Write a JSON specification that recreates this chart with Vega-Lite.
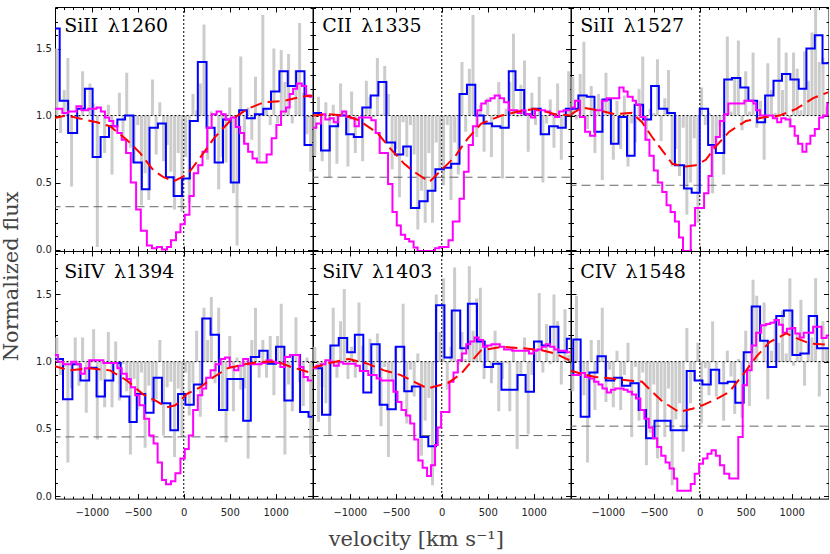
{
"$schema":"https://vega.github.io/schema/vega-lite/v6.json",
"background":"white",
"padding":{"left":0,"top":6,"right":0,"bottom":0},
"config":{"view":{"stroke":null},"axis":{"grid":false,"tickColor":"black","tickWidth":1,"domainColor":"black","domainWidth":1,"labelFont":"DejaVu Sans","labelFontSize":10,"labelColor":"#222222","titleFont":"DejaVu Serif","titleFontSize":21,"titleFontWeight":"normal","titleColor":"#444444","labelFlush":false,"zindex":1}},
"datasets":{
"g":[
{"p":1,"v":-1380,"f":1.5},{"p":1,"v":-1340,"f":0.87},{"p":1,"v":-1300,"f":1.19},{"p":1,"v":-1260,"f":1.43},{"p":1,"v":-1220,"f":0.47},{"p":1,"v":-1180,"f":0.99},{"p":1,"v":-1140,"f":0.97},{"p":1,"v":-1100,"f":1.33},{"p":1,"v":-1060,"f":1.0},{"p":1,"v":-1020,"f":1.24},{"p":1,"v":-980,"f":1.09},{"p":1,"v":-940,"f":0.02},{"p":1,"v":-900,"f":1.0},{"p":1,"v":-860,"f":0.72},{"p":1,"v":-820,"f":1.08},{"p":1,"v":-780,"f":0.56},{"p":1,"v":-740,"f":1.0},{"p":1,"v":-700,"f":1.17},{"p":1,"v":-660,"f":0.81},{"p":1,"v":-620,"f":1.32},{"p":1,"v":-580,"f":0.76},{"p":1,"v":-540,"f":0.65},{"p":1,"v":-500,"f":0.93},{"p":1,"v":-460,"f":0.33},{"p":1,"v":-420,"f":0.57},{"p":1,"v":-380,"f":0.37},{"p":1,"v":-340,"f":1.27},{"p":1,"v":-300,"f":0.71},{"p":1,"v":-260,"f":1.1},{"p":1,"v":-220,"f":0.66},{"p":1,"v":-180,"f":0.78},{"p":1,"v":-140,"f":0.58},{"p":1,"v":-100,"f":0.3},{"p":1,"v":-60,"f":0.72},{"p":1,"v":-20,"f":0.28},{"p":1,"v":20,"f":0.69},{"p":1,"v":60,"f":0.35},{"p":1,"v":100,"f":1.16},{"p":1,"v":140,"f":1.04},{"p":1,"v":180,"f":1.24},{"p":1,"v":220,"f":1.68},{"p":1,"v":260,"f":0.67},{"p":1,"v":300,"f":1.03},{"p":1,"v":340,"f":1.01},{"p":1,"v":380,"f":0.45},{"p":1,"v":420,"f":0.69},{"p":1,"v":460,"f":0.65},{"p":1,"v":500,"f":1.21},{"p":1,"v":540,"f":0.42},{"p":1,"v":580,"f":0.03},{"p":1,"v":620,"f":1.44},{"p":1,"v":660,"f":0.8},{"p":1,"v":700,"f":1.06},{"p":1,"v":740,"f":0.82},{"p":1,"v":780,"f":1.29},{"p":1,"v":820,"f":0.65},{"p":1,"v":860,"f":1.75},{"p":1,"v":900,"f":1.05},{"p":1,"v":940,"f":0.93},{"p":1,"v":980,"f":1.5},{"p":1,"v":1020,"f":0.94},{"p":1,"v":1060,"f":1.49},{"p":1,"v":1100,"f":1.25},{"p":1,"v":1140,"f":1.46},{"p":1,"v":1180,"f":0.94},{"p":1,"v":1220,"f":1.34},{"p":1,"v":1260,"f":1.69},{"p":1,"v":1300,"f":1.17},{"p":1,"v":1340,"f":0.86},{"p":1,"v":1380,"f":0.58},
{"p":2,"v":-1380,"f":0.7},{"p":2,"v":-1340,"f":1.14},{"p":2,"v":-1300,"f":0.66},{"p":2,"v":-1260,"f":1.1},{"p":2,"v":-1220,"f":0.54},{"p":2,"v":-1180,"f":1.08},{"p":2,"v":-1140,"f":0.64},{"p":2,"v":-1100,"f":1.24},{"p":2,"v":-1060,"f":1.04},{"p":2,"v":-1020,"f":0.62},{"p":2,"v":-980,"f":1.18},{"p":2,"v":-940,"f":0.72},{"p":2,"v":-900,"f":1.0},{"p":2,"v":-860,"f":0.66},{"p":2,"v":-820,"f":1.26},{"p":2,"v":-780,"f":1.14},{"p":2,"v":-740,"f":0.99},{"p":2,"v":-700,"f":1.43},{"p":2,"v":-660,"f":1.01},{"p":2,"v":-620,"f":1.37},{"p":2,"v":-580,"f":1.16},{"p":2,"v":-540,"f":0.6},{"p":2,"v":-500,"f":0.75},{"p":2,"v":-460,"f":0.39},{"p":2,"v":-420,"f":0.95},{"p":2,"v":-380,"f":0.69},{"p":2,"v":-340,"f":0.93},{"p":2,"v":-300,"f":0.71},{"p":2,"v":-260,"f":0.15},{"p":2,"v":-220,"f":0.44},{"p":2,"v":-180,"f":0.2},{"p":2,"v":-140,"f":0.72},{"p":2,"v":-100,"f":0.2},{"p":2,"v":-60,"f":0.8},{"p":2,"v":-20,"f":0.6},{"p":2,"v":20,"f":0.48},{"p":2,"v":60,"f":0.93},{"p":2,"v":100,"f":0.37},{"p":2,"v":140,"f":0.8},{"p":2,"v":180,"f":0.56},{"p":2,"v":220,"f":1.4},{"p":2,"v":260,"f":0.88},{"p":2,"v":300,"f":1.35},{"p":2,"v":340,"f":1.75},{"p":2,"v":380,"f":0.84},{"p":2,"v":420,"f":1.08},{"p":2,"v":460,"f":0.73},{"p":2,"v":500,"f":1.13},{"p":2,"v":540,"f":0.69},{"p":2,"v":580,"f":1.01},{"p":2,"v":620,"f":1.25},{"p":2,"v":660,"f":0.53},{"p":2,"v":700,"f":1.05},{"p":2,"v":740,"f":1.25},{"p":2,"v":780,"f":1.61},{"p":2,"v":820,"f":0.99},{"p":2,"v":860,"f":1.23},{"p":2,"v":900,"f":1.41},{"p":2,"v":940,"f":0.73},{"p":2,"v":980,"f":1.17},{"p":2,"v":1020,"f":0.93},{"p":2,"v":1060,"f":1.29},{"p":2,"v":1100,"f":0.5},{"p":2,"v":1140,"f":0.94},{"p":2,"v":1180,"f":1.12},{"p":2,"v":1220,"f":0.76},{"p":2,"v":1260,"f":1.24},{"p":2,"v":1300,"f":0.67},{"p":2,"v":1340,"f":0.91},{"p":2,"v":1380,"f":1.33},
{"p":3,"v":-1380,"f":1.29},{"p":3,"v":-1340,"f":0.97},{"p":3,"v":-1300,"f":1.31},{"p":3,"v":-1260,"f":1.55},{"p":3,"v":-1220,"f":0.9},{"p":3,"v":-1180,"f":1.22},{"p":3,"v":-1140,"f":0.72},{"p":3,"v":-1100,"f":1.16},{"p":3,"v":-1060,"f":0.52},{"p":3,"v":-1020,"f":1.32},{"p":3,"v":-980,"f":1.12},{"p":3,"v":-940,"f":0.67},{"p":3,"v":-900,"f":1.11},{"p":3,"v":-860,"f":0.75},{"p":3,"v":-820,"f":1.15},{"p":3,"v":-780,"f":0.62},{"p":3,"v":-740,"f":0.94},{"p":3,"v":-700,"f":0.8},{"p":3,"v":-660,"f":1.2},{"p":3,"v":-620,"f":1.44},{"p":3,"v":-580,"f":0.81},{"p":3,"v":-540,"f":1.05},{"p":3,"v":-500,"f":1.02},{"p":3,"v":-460,"f":1.42},{"p":3,"v":-420,"f":0.81},{"p":3,"v":-380,"f":1.13},{"p":3,"v":-340,"f":1.34},{"p":3,"v":-300,"f":0.62},{"p":3,"v":-260,"f":0.75},{"p":3,"v":-220,"f":0.55},{"p":3,"v":-180,"f":0.91},{"p":3,"v":-140,"f":0.26},{"p":3,"v":-100,"f":0.5},{"p":3,"v":-60,"f":0.83},{"p":3,"v":-20,"f":0.2},{"p":3,"v":20,"f":1.21},{"p":3,"v":60,"f":0.93},{"p":3,"v":100,"f":1.02},{"p":3,"v":140,"f":0.42},{"p":3,"v":180,"f":0.8},{"p":3,"v":220,"f":0.92},{"p":3,"v":260,"f":0.56},{"p":3,"v":300,"f":1.59},{"p":3,"v":340,"f":1.03},{"p":3,"v":380,"f":1.28},{"p":3,"v":420,"f":1.56},{"p":3,"v":460,"f":0.89},{"p":3,"v":500,"f":1.33},{"p":3,"v":540,"f":1.03},{"p":3,"v":580,"f":1.47},{"p":3,"v":620,"f":0.91},{"p":3,"v":660,"f":1.11},{"p":3,"v":700,"f":0.67},{"p":3,"v":740,"f":1.39},{"p":3,"v":780,"f":1.19},{"p":3,"v":820,"f":1.02},{"p":3,"v":860,"f":1.58},{"p":3,"v":900,"f":1.19},{"p":3,"v":940,"f":1.47},{"p":3,"v":980,"f":0.91},{"p":3,"v":1020,"f":1.47},{"p":3,"v":1060,"f":1.35},{"p":3,"v":1100,"f":1.04},{"p":3,"v":1140,"f":1.48},{"p":3,"v":1180,"f":1.26},{"p":3,"v":1220,"f":1.62},{"p":3,"v":1260,"f":1.8},{"p":3,"v":1300,"f":1.4},{"p":3,"v":1340,"f":1.43},{"p":3,"v":1380,"f":1.07},
{"p":4,"v":-1380,"f":1.18},{"p":4,"v":-1340,"f":0.9},{"p":4,"v":-1300,"f":0.96},{"p":4,"v":-1260,"f":0.25},{"p":4,"v":-1220,"f":0.8},{"p":4,"v":-1180,"f":1.18},{"p":4,"v":-1140,"f":0.82},{"p":4,"v":-1100,"f":1.18},{"p":4,"v":-1060,"f":0.62},{"p":4,"v":-1020,"f":0.96},{"p":4,"v":-980,"f":1.24},{"p":4,"v":-940,"f":0.42},{"p":4,"v":-900,"f":0.86},{"p":4,"v":-860,"f":0.66},{"p":4,"v":-820,"f":1.22},{"p":4,"v":-780,"f":0.66},{"p":4,"v":-740,"f":1.15},{"p":4,"v":-700,"f":0.71},{"p":4,"v":-660,"f":0.98},{"p":4,"v":-620,"f":0.78},{"p":4,"v":-580,"f":0.31},{"p":4,"v":-540,"f":0.87},{"p":4,"v":-500,"f":0.64},{"p":4,"v":-460,"f":0.92},{"p":4,"v":-420,"f":0.36},{"p":4,"v":-380,"f":0.82},{"p":4,"v":-340,"f":0.7},{"p":4,"v":-300,"f":0.72},{"p":4,"v":-260,"f":1.16},{"p":4,"v":-220,"f":0.45},{"p":4,"v":-180,"f":0.81},{"p":4,"v":-140,"f":0.85},{"p":4,"v":-100,"f":0.29},{"p":4,"v":-60,"f":0.8},{"p":4,"v":-20,"f":0.44},{"p":4,"v":20,"f":0.92},{"p":4,"v":60,"f":0.6},{"p":4,"v":100,"f":0.84},{"p":4,"v":140,"f":1.23},{"p":4,"v":180,"f":0.59},{"p":4,"v":220,"f":1.4},{"p":4,"v":260,"f":1.16},{"p":4,"v":300,"f":1.48},{"p":4,"v":340,"f":0.84},{"p":4,"v":380,"f":1.4},{"p":4,"v":420,"f":0.64},{"p":4,"v":460,"f":0.4},{"p":4,"v":500,"f":1.19},{"p":4,"v":540,"f":0.63},{"p":4,"v":580,"f":1.03},{"p":4,"v":620,"f":0.79},{"p":4,"v":660,"f":0.8},{"p":4,"v":700,"f":0.28},{"p":4,"v":740,"f":1.16},{"p":4,"v":780,"f":1.4},{"p":4,"v":820,"f":0.88},{"p":4,"v":860,"f":1.16},{"p":4,"v":900,"f":0.88},{"p":4,"v":940,"f":1.19},{"p":4,"v":980,"f":0.75},{"p":4,"v":1020,"f":1.19},{"p":4,"v":1060,"f":1.43},{"p":4,"v":1100,"f":0.31},{"p":4,"v":1140,"f":0.83},{"p":4,"v":1180,"f":0.63},{"p":4,"v":1220,"f":1.33},{"p":4,"v":1260,"f":0.85},{"p":4,"v":1300,"f":0.67},{"p":4,"v":1340,"f":1.03},{"p":4,"v":1380,"f":0.31},
{"p":5,"v":-1380,"f":1.11},{"p":5,"v":-1340,"f":0.55},{"p":5,"v":-1300,"f":0.81},{"p":5,"v":-1260,"f":0.69},{"p":5,"v":-1220,"f":0.45},{"p":5,"v":-1180,"f":1.4},{"p":5,"v":-1140,"f":0.88},{"p":5,"v":-1100,"f":1.3},{"p":5,"v":-1060,"f":1.54},{"p":5,"v":-1020,"f":0.87},{"p":5,"v":-980,"f":1.11},{"p":5,"v":-940,"f":0.88},{"p":5,"v":-900,"f":1.44},{"p":5,"v":-860,"f":1.12},{"p":5,"v":-820,"f":0.93},{"p":5,"v":-780,"f":1.17},{"p":5,"v":-740,"f":0.89},{"p":5,"v":-700,"f":1.21},{"p":5,"v":-660,"f":0.52},{"p":5,"v":-620,"f":0.96},{"p":5,"v":-580,"f":0.29},{"p":5,"v":-540,"f":0.85},{"p":5,"v":-500,"f":1.11},{"p":5,"v":-460,"f":0.99},{"p":5,"v":-420,"f":1.43},{"p":5,"v":-380,"f":0.54},{"p":5,"v":-340,"f":0.94},{"p":5,"v":-300,"f":0.74},{"p":5,"v":-260,"f":1.06},{"p":5,"v":-220,"f":0.3},{"p":5,"v":-180,"f":0.56},{"p":5,"v":-140,"f":0.73},{"p":5,"v":-100,"f":0.08},{"p":5,"v":-60,"f":1.5},{"p":5,"v":-20,"f":1.22},{"p":5,"v":20,"f":1.62},{"p":5,"v":60,"f":0.79},{"p":5,"v":100,"f":1.11},{"p":5,"v":140,"f":1.7},{"p":5,"v":180,"f":0.98},{"p":5,"v":220,"f":1.22},{"p":5,"v":260,"f":1.02},{"p":5,"v":300,"f":1.71},{"p":5,"v":340,"f":1.23},{"p":5,"v":380,"f":1.47},{"p":5,"v":420,"f":1.55},{"p":5,"v":460,"f":0.87},{"p":5,"v":500,"f":1.12},{"p":5,"v":540,"f":0.84},{"p":5,"v":580,"f":1.23},{"p":5,"v":620,"f":0.63},{"p":5,"v":660,"f":0.87},{"p":5,"v":700,"f":0.99},{"p":5,"v":740,"f":0.63},{"p":5,"v":780,"f":1.11},{"p":5,"v":820,"f":0.35},{"p":5,"v":860,"f":0.9},{"p":5,"v":900,"f":1.18},{"p":5,"v":940,"f":0.46},{"p":5,"v":980,"f":0.9},{"p":5,"v":1020,"f":1.07},{"p":5,"v":1060,"f":1.51},{"p":5,"v":1100,"f":0.92},{"p":5,"v":1140,"f":1.28},{"p":5,"v":1180,"f":0.98},{"p":5,"v":1220,"f":1.5},{"p":5,"v":1260,"f":1.3},{"p":5,"v":1300,"f":0.83},{"p":5,"v":1340,"f":1.39},{"p":5,"v":1380,"f":1.05},
{"p":6,"v":-1380,"f":0.78},{"p":6,"v":-1340,"f":1.49},{"p":6,"v":-1300,"f":0.93},{"p":6,"v":-1260,"f":0.75},{"p":6,"v":-1220,"f":0.25},{"p":6,"v":-1180,"f":1.16},{"p":6,"v":-1140,"f":0.64},{"p":6,"v":-1100,"f":1.16},{"p":6,"v":-1060,"f":1.4},{"p":6,"v":-1020,"f":0.7},{"p":6,"v":-980,"f":0.94},{"p":6,"v":-940,"f":0.66},{"p":6,"v":-900,"f":1.08},{"p":6,"v":-860,"f":0.64},{"p":6,"v":-820,"f":0.9},{"p":6,"v":-780,"f":1.14},{"p":6,"v":-740,"f":0.44},{"p":6,"v":-700,"f":0.96},{"p":6,"v":-660,"f":0.56},{"p":6,"v":-620,"f":0.92},{"p":6,"v":-580,"f":0.23},{"p":6,"v":-540,"f":0.47},{"p":6,"v":-500,"f":0.83},{"p":6,"v":-460,"f":0.28},{"p":6,"v":-420,"f":0.72},{"p":6,"v":-380,"f":0.44},{"p":6,"v":-340,"f":0.8},{"p":6,"v":-300,"f":0.08},{"p":6,"v":-260,"f":0.57},{"p":6,"v":-220,"f":0.69},{"p":6,"v":-180,"f":0.33},{"p":6,"v":-140,"f":1.25},{"p":6,"v":-100,"f":0.69},{"p":6,"v":-60,"f":0.86},{"p":6,"v":-20,"f":1.14},{"p":6,"v":20,"f":0.54},{"p":6,"v":60,"f":0.95},{"p":6,"v":100,"f":0.75},{"p":6,"v":140,"f":1.3},{"p":6,"v":180,"f":0.74},{"p":6,"v":220,"f":1.0},{"p":6,"v":260,"f":0.56},{"p":6,"v":300,"f":1.08},{"p":6,"v":340,"f":0.89},{"p":6,"v":380,"f":0.61},{"p":6,"v":420,"f":1.02},{"p":6,"v":460,"f":0.58},{"p":6,"v":500,"f":1.23},{"p":6,"v":540,"f":0.67},{"p":6,"v":580,"f":1.61},{"p":6,"v":620,"f":1.49},{"p":6,"v":660,"f":1.0},{"p":6,"v":700,"f":1.44},{"p":6,"v":740,"f":0.72},{"p":6,"v":780,"f":1.08},{"p":6,"v":820,"f":1.32},{"p":6,"v":860,"f":1.14},{"p":6,"v":900,"f":1.38},{"p":6,"v":940,"f":1.06},{"p":6,"v":980,"f":1.62},{"p":6,"v":1020,"f":0.97},{"p":6,"v":1060,"f":1.21},{"p":6,"v":1100,"f":1.46},{"p":6,"v":1140,"f":0.82},{"p":6,"v":1180,"f":1.14},{"p":6,"v":1220,"f":1.18},{"p":6,"v":1260,"f":1.62},{"p":6,"v":1300,"f":0.74},{"p":6,"v":1340,"f":1.3},{"p":6,"v":1380,"f":1.1}
],
"b":[
{"p":1,"v":-1420,"f":1.65},{"p":1,"v":-1349,"f":1.11},{"p":1,"v":-1257,"f":0.87},{"p":1,"v":-1159,"f":1.05},{"p":1,"v":-1075,"f":1.2},{"p":1,"v":-991,"f":0.69},{"p":1,"v":-904,"f":0.84},{"p":1,"v":-813,"f":0.92},{"p":1,"v":-722,"f":0.97},{"p":1,"v":-638,"f":1.0},{"p":1,"v":-547,"f":0.65},{"p":1,"v":-456,"f":0.45},{"p":1,"v":-372,"f":0.91},{"p":1,"v":-281,"f":0.94},{"p":1,"v":-194,"f":0.54},{"p":1,"v":-110,"f":0.4},{"p":1,"v":-18,"f":0.53},{"p":1,"v":66,"f":0.96},{"p":1,"v":153,"f":1.4},{"p":1,"v":248,"f":0.91},{"p":1,"v":336,"f":0.65},{"p":1,"v":427,"f":0.97},{"p":1,"v":511,"f":0.5},{"p":1,"v":602,"f":1.04},{"p":1,"v":686,"f":0.98},{"p":1,"v":773,"f":1.01},{"p":1,"v":865,"f":1.05},{"p":1,"v":949,"f":1.18},{"p":1,"v":1040,"f":1.33},{"p":1,"v":1131,"f":1.22},{"p":1,"v":1222,"f":1.33},{"p":1,"v":1313,"f":0.78},{"p":1,"v":1420,"f":0.78},
{"p":2,"v":-1420,"f":1.02},{"p":2,"v":-1313,"f":0.74},{"p":2,"v":-1218,"f":0.92},{"p":2,"v":-1127,"f":1.0},{"p":2,"v":-1039,"f":0.86},{"p":2,"v":-956,"f":0.84},{"p":2,"v":-864,"f":1.06},{"p":2,"v":-773,"f":1.15},{"p":2,"v":-689,"f":1.25},{"p":2,"v":-602,"f":0.8},{"p":2,"v":-507,"f":0.71},{"p":2,"v":-419,"f":0.77},{"p":2,"v":-336,"f":0.31},{"p":2,"v":-244,"f":0.36},{"p":2,"v":-153,"f":0.44},{"p":2,"v":-69,"f":0.6},{"p":2,"v":22,"f":0.61},{"p":2,"v":102,"f":0.64},{"p":2,"v":193,"f":1.16},{"p":2,"v":274,"f":1.23},{"p":2,"v":365,"f":1.0},{"p":2,"v":456,"f":0.94},{"p":2,"v":547,"f":0.92},{"p":2,"v":638,"f":0.91},{"p":2,"v":729,"f":1.33},{"p":2,"v":802,"f":1.19},{"p":2,"v":897,"f":1.01},{"p":2,"v":985,"f":1.05},{"p":2,"v":1076,"f":0.86},{"p":2,"v":1167,"f":0.92},{"p":2,"v":1262,"f":0.91},{"p":2,"v":1349,"f":1.05},{"p":2,"v":1420,"f":1.05},
{"p":3,"v":-1420,"f":1.05},{"p":3,"v":-1320,"f":1.15},{"p":3,"v":-1229,"f":1.14},{"p":3,"v":-1145,"f":0.88},{"p":3,"v":-1058,"f":1.12},{"p":3,"v":-966,"f":0.79},{"p":3,"v":-883,"f":0.99},{"p":3,"v":-791,"f":0.7},{"p":3,"v":-708,"f":1.08},{"p":3,"v":-616,"f":0.97},{"p":3,"v":-529,"f":1.22},{"p":3,"v":-445,"f":1.05},{"p":3,"v":-354,"f":1.02},{"p":3,"v":-270,"f":0.63},{"p":3,"v":-171,"f":0.455},{"p":3,"v":-88,"f":0.425},{"p":3,"v":0,"f":1.05},{"p":3,"v":91,"f":0.78},{"p":3,"v":175,"f":0.72},{"p":3,"v":266,"f":1.27},{"p":3,"v":350,"f":1.28},{"p":3,"v":441,"f":1.21},{"p":3,"v":529,"f":1.11},{"p":3,"v":624,"f":0.95},{"p":3,"v":711,"f":1.15},{"p":3,"v":802,"f":1.26},{"p":3,"v":894,"f":1.31},{"p":3,"v":985,"f":1.27},{"p":3,"v":1076,"f":1.2},{"p":3,"v":1160,"f":1.5},{"p":3,"v":1251,"f":1.6},{"p":3,"v":1335,"f":1.39},{"p":3,"v":1420,"f":1.39},
{"p":4,"v":-1420,"f":1.02},{"p":4,"v":-1313,"f":0.72},{"p":4,"v":-1211,"f":0.98},{"p":4,"v":-1123,"f":0.86},{"p":4,"v":-1028,"f":0.955},{"p":4,"v":-948,"f":0.74},{"p":4,"v":-857,"f":0.86},{"p":4,"v":-766,"f":0.99},{"p":4,"v":-686,"f":0.74},{"p":4,"v":-591,"f":0.55},{"p":4,"v":-511,"f":0.76},{"p":4,"v":-419,"f":0.62},{"p":4,"v":-328,"f":0.88},{"p":4,"v":-237,"f":0.69},{"p":4,"v":-146,"f":0.49},{"p":4,"v":-62,"f":0.76},{"p":4,"v":18,"f":0.68},{"p":4,"v":109,"f":0.83},{"p":4,"v":201,"f":1.32},{"p":4,"v":292,"f":1.2},{"p":4,"v":383,"f":0.64},{"p":4,"v":474,"f":0.87},{"p":4,"v":646,"f":0.56},{"p":4,"v":729,"f":1.035},{"p":4,"v":821,"f":1.08},{"p":4,"v":912,"f":0.985},{"p":4,"v":1003,"f":1.11},{"p":4,"v":1094,"f":0.71},{"p":4,"v":1185,"f":1.05},{"p":4,"v":1265,"f":0.625},{"p":4,"v":1357,"f":0.59},{"p":4,"v":1420,"f":0.59},
{"p":5,"v":-1420,"f":0.95},{"p":5,"v":-1302,"f":0.605},{"p":5,"v":-1211,"f":1.12},{"p":5,"v":-1120,"f":1.175},{"p":5,"v":-1028,"f":1.07},{"p":5,"v":-945,"f":1.2},{"p":5,"v":-853,"f":0.77},{"p":5,"v":-766,"f":1.13},{"p":5,"v":-675,"f":0.68},{"p":5,"v":-591,"f":0.645},{"p":5,"v":-500,"f":1.11},{"p":5,"v":-408,"f":0.78},{"p":5,"v":-325,"f":0.815},{"p":5,"v":-233,"f":0.44},{"p":5,"v":-146,"f":0.37},{"p":5,"v":-62,"f":1.42},{"p":5,"v":29,"f":1.03},{"p":5,"v":109,"f":1.38},{"p":5,"v":201,"f":1.1},{"p":5,"v":284,"f":1.43},{"p":5,"v":383,"f":1.15},{"p":5,"v":467,"f":0.96},{"p":5,"v":558,"f":0.985},{"p":5,"v":649,"f":0.79},{"p":5,"v":824,"f":0.9},{"p":5,"v":912,"f":0.775},{"p":5,"v":1003,"f":1.15},{"p":5,"v":1087,"f":1.12},{"p":5,"v":1178,"f":1.26},{"p":5,"v":1269,"f":1.07},{"p":5,"v":1360,"f":1.17},{"p":5,"v":1420,"f":1.17},
{"p":6,"v":-1420,"f":0.9},{"p":6,"v":-1375,"f":1.165},{"p":6,"v":-1295,"f":0.59},{"p":6,"v":-1200,"f":0.92},{"p":6,"v":-1112,"f":1.04},{"p":6,"v":-1021,"f":0.86},{"p":6,"v":-930,"f":0.88},{"p":6,"v":-846,"f":0.82},{"p":6,"v":-755,"f":0.84},{"p":6,"v":-664,"f":0.64},{"p":6,"v":-584,"f":0.43},{"p":6,"v":-492,"f":0.56},{"p":6,"v":-317,"f":0.49},{"p":6,"v":-142,"f":0.93},{"p":6,"v":-55,"f":0.86},{"p":6,"v":29,"f":0.83},{"p":6,"v":120,"f":0.94},{"p":6,"v":212,"f":0.84},{"p":6,"v":303,"f":0.85},{"p":6,"v":387,"f":0.695},{"p":6,"v":478,"f":1.07},{"p":6,"v":565,"f":1.41},{"p":6,"v":656,"f":1.155},{"p":6,"v":740,"f":0.96},{"p":6,"v":832,"f":1.34},{"p":6,"v":915,"f":1.38},{"p":6,"v":1007,"f":1.05},{"p":6,"v":1094,"f":1.06},{"p":6,"v":1185,"f":1.34},{"p":6,"v":1276,"f":1.1},{"p":6,"v":1420,"f":1.1}
],
"m":[
{"p":1,"v":-1420,"f":1.05},{"p":1,"v":-1320,"f":1.02},{"p":1,"v":-1258,"f":1.03},{"p":1,"v":-1167,"f":1.07},{"p":1,"v":-1112,"f":1.04},{"p":1,"v":-1039,"f":1.05},{"p":1,"v":-948,"f":1.06},{"p":1,"v":-901,"f":1.03},{"p":1,"v":-857,"f":0.985},{"p":1,"v":-810,"f":0.96},{"p":1,"v":-766,"f":0.92},{"p":1,"v":-722,"f":0.87},{"p":1,"v":-675,"f":0.82},{"p":1,"v":-627,"f":0.72},{"p":1,"v":-576,"f":0.5},{"p":1,"v":-518,"f":0.3},{"p":1,"v":-467,"f":0.14},{"p":1,"v":-401,"f":0.03},{"p":1,"v":-346,"f":0.01},{"p":1,"v":-292,"f":0.02},{"p":1,"v":-237,"f":0.0},{"p":1,"v":-182,"f":0.02},{"p":1,"v":-139,"f":0.07},{"p":1,"v":-84,"f":0.13},{"p":1,"v":-36,"f":0.19},{"p":1,"v":11,"f":0.26},{"p":1,"v":62,"f":0.4},{"p":1,"v":109,"f":0.57},{"p":1,"v":157,"f":0.63},{"p":1,"v":204,"f":0.73},{"p":1,"v":255,"f":0.91},{"p":1,"v":303,"f":1.01},{"p":1,"v":357,"f":1.03},{"p":1,"v":408,"f":1.01},{"p":1,"v":456,"f":0.97},{"p":1,"v":511,"f":0.985},{"p":1,"v":565,"f":0.915},{"p":1,"v":613,"f":0.87},{"p":1,"v":656,"f":0.79},{"p":1,"v":700,"f":0.73},{"p":1,"v":748,"f":0.68},{"p":1,"v":795,"f":0.65},{"p":1,"v":901,"f":0.71},{"p":1,"v":956,"f":0.83},{"p":1,"v":1007,"f":0.93},{"p":1,"v":1058,"f":1.03},{"p":1,"v":1112,"f":1.06},{"p":1,"v":1152,"f":1.16},{"p":1,"v":1189,"f":1.2},{"p":1,"v":1233,"f":1.24},{"p":1,"v":1284,"f":1.22},{"p":1,"v":1331,"f":1.15},{"p":1,"v":1368,"f":1.14},{"p":1,"v":1420,"f":1.14},
{"p":2,"v":-1420,"f":0.91},{"p":2,"v":-1364,"f":0.94},{"p":2,"v":-1313,"f":1.01},{"p":2,"v":-1266,"f":0.97},{"p":2,"v":-1218,"f":0.98},{"p":2,"v":-1174,"f":0.95},{"p":2,"v":-1127,"f":1.0},{"p":2,"v":-1083,"f":1.03},{"p":2,"v":-1039,"f":0.99},{"p":2,"v":-992,"f":0.98},{"p":2,"v":-948,"f":0.92},{"p":2,"v":-901,"f":0.985},{"p":2,"v":-766,"f":0.965},{"p":2,"v":-718,"f":0.87},{"p":2,"v":-675,"f":0.72},{"p":2,"v":-584,"f":0.49},{"p":2,"v":-536,"f":0.28},{"p":2,"v":-489,"f":0.18},{"p":2,"v":-445,"f":0.11},{"p":2,"v":-398,"f":0.08},{"p":2,"v":-354,"f":0.06},{"p":2,"v":-306,"f":0.015},{"p":2,"v":-263,"f":-0.01},{"p":2,"v":-73,"f":0.01},{"p":2,"v":-26,"f":0.02},{"p":2,"v":73,"f":0.07},{"p":2,"v":120,"f":0.21},{"p":2,"v":193,"f":0.38},{"p":2,"v":241,"f":0.58},{"p":2,"v":292,"f":0.78},{"p":2,"v":339,"f":0.92},{"p":2,"v":387,"f":1.04},{"p":2,"v":430,"f":1.09},{"p":2,"v":478,"f":1.11},{"p":2,"v":529,"f":1.13},{"p":2,"v":576,"f":1.15},{"p":2,"v":631,"f":1.13},{"p":2,"v":678,"f":1.1},{"p":2,"v":729,"f":1.04},{"p":2,"v":824,"f":1.02},{"p":2,"v":868,"f":1.04},{"p":2,"v":912,"f":1.01},{"p":2,"v":970,"f":0.985},{"p":2,"v":1014,"f":1.04},{"p":2,"v":1123,"f":1.03},{"p":2,"v":1178,"f":1.01},{"p":2,"v":1233,"f":0.99},{"p":2,"v":1276,"f":1.03},{"p":2,"v":1324,"f":1.04},{"p":2,"v":1420,"f":1.04},
{"p":3,"v":-1420,"f":1.06},{"p":3,"v":-1357,"f":1.11},{"p":3,"v":-1302,"f":0.99},{"p":3,"v":-1247,"f":0.88},{"p":3,"v":-1193,"f":0.85},{"p":3,"v":-1138,"f":1.04},{"p":3,"v":-1065,"f":1.11},{"p":3,"v":-1010,"f":1.13},{"p":3,"v":-875,"f":1.21},{"p":3,"v":-828,"f":1.18},{"p":3,"v":-784,"f":1.14},{"p":3,"v":-729,"f":1.11},{"p":3,"v":-693,"f":1.08},{"p":3,"v":-646,"f":0.99},{"p":3,"v":-591,"f":0.82},{"p":3,"v":-547,"f":0.7},{"p":3,"v":-500,"f":0.59},{"p":3,"v":-456,"f":0.5},{"p":3,"v":-408,"f":0.43},{"p":3,"v":-361,"f":0.33},{"p":3,"v":-317,"f":0.28},{"p":3,"v":-270,"f":0.21},{"p":3,"v":-226,"f":0.09},{"p":3,"v":-182,"f":-0.01},{"p":3,"v":-98,"f":0.18},{"p":3,"v":-51,"f":0.31},{"p":3,"v":47,"f":0.42},{"p":3,"v":95,"f":0.55},{"p":3,"v":131,"f":0.77},{"p":3,"v":175,"f":0.84},{"p":3,"v":219,"f":0.96},{"p":3,"v":266,"f":1.01},{"p":3,"v":310,"f":1.09},{"p":3,"v":485,"f":1.11},{"p":3,"v":584,"f":1.09},{"p":3,"v":613,"f":1.04},{"p":3,"v":656,"f":1.0},{"p":3,"v":795,"f":0.98},{"p":3,"v":842,"f":0.95},{"p":3,"v":886,"f":0.98},{"p":3,"v":934,"f":0.97},{"p":3,"v":985,"f":0.92},{"p":3,"v":1032,"f":0.85},{"p":3,"v":1069,"f":0.79},{"p":3,"v":1116,"f":0.73},{"p":3,"v":1160,"f":0.79},{"p":3,"v":1203,"f":0.85},{"p":3,"v":1251,"f":0.9},{"p":3,"v":1298,"f":0.985},{"p":3,"v":1342,"f":1.0},{"p":3,"v":1386,"f":1.09},{"p":3,"v":1420,"f":1.09},
{"p":4,"v":-1420,"f":1.05},{"p":4,"v":-1368,"f":1.0},{"p":4,"v":-1313,"f":0.98},{"p":4,"v":-1222,"f":1.0},{"p":4,"v":-1167,"f":0.98},{"p":4,"v":-1120,"f":0.91},{"p":4,"v":-1076,"f":0.95},{"p":4,"v":-1028,"f":1.01},{"p":4,"v":-875,"f":0.99},{"p":4,"v":-722,"f":0.95},{"p":4,"v":-675,"f":0.91},{"p":4,"v":-620,"f":0.87},{"p":4,"v":-576,"f":0.81},{"p":4,"v":-529,"f":0.75},{"p":4,"v":-481,"f":0.675},{"p":4,"v":-430,"f":0.575},{"p":4,"v":-376,"f":0.45},{"p":4,"v":-328,"f":0.39},{"p":4,"v":-284,"f":0.25},{"p":4,"v":-237,"f":0.12},{"p":4,"v":-193,"f":0.087},{"p":4,"v":-139,"f":0.11},{"p":4,"v":-91,"f":0.17},{"p":4,"v":-36,"f":0.28},{"p":4,"v":11,"f":0.35},{"p":4,"v":55,"f":0.45},{"p":4,"v":102,"f":0.64},{"p":4,"v":153,"f":0.75},{"p":4,"v":201,"f":0.8},{"p":4,"v":244,"f":0.88},{"p":4,"v":292,"f":0.935},{"p":4,"v":346,"f":0.98},{"p":4,"v":401,"f":1.02},{"p":4,"v":449,"f":1.03},{"p":4,"v":500,"f":0.96},{"p":4,"v":547,"f":0.935},{"p":4,"v":594,"f":0.97},{"p":4,"v":646,"f":1.02},{"p":4,"v":700,"f":0.98},{"p":4,"v":846,"f":0.99},{"p":4,"v":901,"f":1.01},{"p":4,"v":956,"f":1.0},{"p":4,"v":1003,"f":0.99},{"p":4,"v":1050,"f":0.96},{"p":4,"v":1101,"f":1.035},{"p":4,"v":1156,"f":1.05},{"p":4,"v":1258,"f":0.96},{"p":4,"v":1302,"f":0.885},{"p":4,"v":1349,"f":0.86},{"p":4,"v":1420,"f":0.86},
{"p":5,"v":-1420,"f":0.95},{"p":5,"v":-1364,"f":0.97},{"p":5,"v":-1313,"f":0.98},{"p":5,"v":-1266,"f":1.01},{"p":5,"v":-1218,"f":1.0},{"p":5,"v":-1174,"f":0.97},{"p":5,"v":-1120,"f":0.995},{"p":5,"v":-1072,"f":0.985},{"p":5,"v":-937,"f":0.97},{"p":5,"v":-890,"f":0.93},{"p":5,"v":-799,"f":0.9},{"p":5,"v":-708,"f":0.875},{"p":5,"v":-664,"f":0.86},{"p":5,"v":-525,"f":0.775},{"p":5,"v":-481,"f":0.7},{"p":5,"v":-438,"f":0.64},{"p":5,"v":-390,"f":0.6},{"p":5,"v":-343,"f":0.54},{"p":5,"v":-299,"f":0.42},{"p":5,"v":-255,"f":0.265},{"p":5,"v":-208,"f":0.21},{"p":5,"v":-160,"f":0.15},{"p":5,"v":-117,"f":0.23},{"p":5,"v":-73,"f":0.38},{"p":5,"v":-44,"f":0.51},{"p":5,"v":-7,"f":0.625},{"p":5,"v":84,"f":0.85},{"p":5,"v":128,"f":0.92},{"p":5,"v":175,"f":1.01},{"p":5,"v":219,"f":1.06},{"p":5,"v":266,"f":1.13},{"p":5,"v":310,"f":1.15},{"p":5,"v":357,"f":1.18},{"p":5,"v":401,"f":1.16},{"p":5,"v":449,"f":1.11},{"p":5,"v":492,"f":1.12},{"p":5,"v":540,"f":1.13},{"p":5,"v":631,"f":1.11},{"p":5,"v":678,"f":1.09},{"p":5,"v":766,"f":1.08},{"p":5,"v":948,"f":1.06},{"p":5,"v":996,"f":1.08},{"p":5,"v":1039,"f":1.09},{"p":5,"v":1087,"f":1.11},{"p":5,"v":1131,"f":1.13},{"p":5,"v":1178,"f":1.11},{"p":5,"v":1225,"f":1.09},{"p":5,"v":1269,"f":1.08},{"p":5,"v":1360,"f":1.07},{"p":5,"v":1420,"f":1.07},
{"p":6,"v":-1420,"f":0.9},{"p":6,"v":-1295,"f":0.915},{"p":6,"v":-1247,"f":0.885},{"p":6,"v":-1193,"f":0.875},{"p":6,"v":-1149,"f":0.85},{"p":6,"v":-1101,"f":0.83},{"p":6,"v":-1058,"f":0.8},{"p":6,"v":-1010,"f":0.77},{"p":6,"v":-966,"f":0.79},{"p":6,"v":-919,"f":0.8},{"p":6,"v":-828,"f":0.79},{"p":6,"v":-784,"f":0.775},{"p":6,"v":-737,"f":0.755},{"p":6,"v":-693,"f":0.725},{"p":6,"v":-646,"f":0.64},{"p":6,"v":-602,"f":0.575},{"p":6,"v":-554,"f":0.51},{"p":6,"v":-511,"f":0.43},{"p":6,"v":-463,"f":0.365},{"p":6,"v":-419,"f":0.3},{"p":6,"v":-372,"f":0.25},{"p":6,"v":-328,"f":0.205},{"p":6,"v":-281,"f":0.13},{"p":6,"v":-244,"f":0.04},{"p":6,"v":-98,"f":0.09},{"p":6,"v":-55,"f":0.165},{"p":6,"v":-7,"f":0.24},{"p":6,"v":36,"f":0.28},{"p":6,"v":84,"f":0.315},{"p":6,"v":128,"f":0.34},{"p":6,"v":175,"f":0.3},{"p":6,"v":219,"f":0.23},{"p":6,"v":266,"f":0.165},{"p":6,"v":321,"f":0.13},{"p":6,"v":419,"f":0.44},{"p":6,"v":467,"f":0.825},{"p":6,"v":514,"f":0.935},{"p":6,"v":565,"f":1.12},{"p":6,"v":613,"f":1.215},{"p":6,"v":667,"f":1.27},{"p":6,"v":722,"f":1.28},{"p":6,"v":766,"f":1.29},{"p":6,"v":813,"f":1.31},{"p":6,"v":861,"f":1.275},{"p":6,"v":904,"f":1.215},{"p":6,"v":948,"f":1.245},{"p":6,"v":996,"f":1.25},{"p":6,"v":1039,"f":1.21},{"p":6,"v":1087,"f":1.18},{"p":6,"v":1131,"f":1.215},{"p":6,"v":1233,"f":1.26},{"p":6,"v":1324,"f":1.175},{"p":6,"v":1379,"f":1.195},{"p":6,"v":1420,"f":1.195}
],
"r":[
{"p":1,"v":-1420,"f":0.98},{"p":1,"v":-1276,"f":1.0},{"p":1,"v":-945,"f":0.95},{"p":1,"v":-800,"f":0.92},{"p":1,"v":-620,"f":0.82},{"p":1,"v":-474,"f":0.72},{"p":1,"v":-328,"f":0.59},{"p":1,"v":-219,"f":0.54},{"p":1,"v":-110,"f":0.51},{"p":1,"v":-18,"f":0.54},{"p":1,"v":73,"f":0.59},{"p":1,"v":182,"f":0.69},{"p":1,"v":328,"f":0.83},{"p":1,"v":510,"f":0.965},{"p":1,"v":693,"f":1.05},{"p":1,"v":875,"f":1.1},{"p":1,"v":1094,"f":1.11},{"p":1,"v":1276,"f":1.14},{"p":1,"v":1420,"f":1.15},
{"p":2,"v":-1420,"f":1.0},{"p":2,"v":-1229,"f":1.01},{"p":2,"v":-1047,"f":1.0},{"p":2,"v":-901,"f":0.965},{"p":2,"v":-700,"f":0.87},{"p":2,"v":-554,"f":0.75},{"p":2,"v":-408,"f":0.64},{"p":2,"v":-299,"f":0.58},{"p":2,"v":-135,"f":0.505},{"p":2,"v":-7,"f":0.59},{"p":2,"v":139,"f":0.69},{"p":2,"v":284,"f":0.83},{"p":2,"v":430,"f":0.94},{"p":2,"v":649,"f":1.0},{"p":2,"v":831,"f":1.03},{"p":2,"v":1014,"f":1.05},{"p":2,"v":1233,"f":1.01},{"p":2,"v":1420,"f":1.0},
{"p":3,"v":-1420,"f":1.0},{"p":3,"v":-1284,"f":1.06},{"p":3,"v":-1101,"f":1.04},{"p":3,"v":-919,"f":1.01},{"p":3,"v":-737,"f":1.02},{"p":3,"v":-627,"f":0.95},{"p":3,"v":-518,"f":0.84},{"p":3,"v":-408,"f":0.74},{"p":3,"v":-299,"f":0.64},{"p":3,"v":-153,"f":0.62},{"p":3,"v":-44,"f":0.63},{"p":3,"v":66,"f":0.67},{"p":3,"v":175,"f":0.77},{"p":3,"v":321,"f":0.88},{"p":3,"v":503,"f":0.96},{"p":3,"v":686,"f":0.985},{"p":3,"v":868,"f":1.0},{"p":3,"v":1050,"f":1.05},{"p":3,"v":1233,"f":1.13},{"p":3,"v":1420,"f":1.18},
{"p":4,"v":-1420,"f":0.97},{"p":4,"v":-1240,"f":0.935},{"p":4,"v":-1021,"f":0.95},{"p":4,"v":-802,"f":0.935},{"p":4,"v":-620,"f":0.86},{"p":4,"v":-438,"f":0.755},{"p":4,"v":-292,"f":0.705},{"p":4,"v":-182,"f":0.66},{"p":4,"v":-91,"f":0.675},{"p":4,"v":36,"f":0.76},{"p":4,"v":182,"f":0.81},{"p":4,"v":292,"f":0.87},{"p":4,"v":474,"f":0.95},{"p":4,"v":693,"f":0.985},{"p":4,"v":875,"f":1.0},{"p":4,"v":1021,"f":1.0},{"p":4,"v":1167,"f":0.96},{"p":4,"v":1420,"f":0.91},
{"p":5,"v":-1420,"f":0.95},{"p":5,"v":-1247,"f":0.985},{"p":5,"v":-1010,"f":1.02},{"p":5,"v":-810,"f":0.985},{"p":5,"v":-627,"f":0.935},{"p":5,"v":-445,"f":0.9},{"p":5,"v":-299,"f":0.85},{"p":5,"v":-153,"f":0.8},{"p":5,"v":-44,"f":0.82},{"p":5,"v":66,"f":0.84},{"p":5,"v":212,"f":0.91},{"p":5,"v":321,"f":1.0},{"p":5,"v":430,"f":1.085},{"p":5,"v":649,"f":1.11},{"p":5,"v":868,"f":1.1},{"p":5,"v":1087,"f":1.085},{"p":5,"v":1233,"f":1.06},{"p":5,"v":1420,"f":1.0},
{"p":6,"v":-1420,"f":0.935},{"p":6,"v":-1284,"f":0.91},{"p":6,"v":-1138,"f":0.885},{"p":6,"v":-955,"f":0.875},{"p":6,"v":-773,"f":0.86},{"p":6,"v":-627,"f":0.85},{"p":6,"v":-554,"f":0.8},{"p":6,"v":-408,"f":0.705},{"p":6,"v":-226,"f":0.625},{"p":6,"v":-80,"f":0.65},{"p":6,"v":29,"f":0.675},{"p":6,"v":175,"f":0.72},{"p":6,"v":321,"f":0.775},{"p":6,"v":467,"f":0.9},{"p":6,"v":613,"f":1.035},{"p":6,"v":759,"f":1.145},{"p":6,"v":941,"f":1.21},{"p":6,"v":1050,"f":1.175},{"p":6,"v":1196,"f":1.135},{"p":6,"v":1420,"f":1.125}
]
},
"concat":[
{"width":257.5,"height":244,"resolve":{"axis":{"x":"independent","y":"independent"}},"layer":[
{"data":{"name":"g"},"transform":[{"filter":"datum.p==1"}],"mark":{"type":"rule","color":"#cccccc","strokeWidth":3,"clip":true},"encoding":{"x":{"field":"v","type":"quantitative","scale":{"domain":[-1400,1400],"nice":false,"zero":false},"axis":{"orient":"bottom","values":[-1000,-500,0,500,1000],"tickSize":-5,"labels":false,"domain":true,"title":null}},"y":{"field":"f","type":"quantitative","scale":{"domain":[-0.0104,1.81],"nice":false,"zero":false},"axis":{"orient":"left","values":[0,0.5,1,1.5],"format":".1f","tickSize":-5,"labels":true,"labelPadding":8.6,"domain":true,"title":"Normalized flux","titleX":-37.6,"titleY":268.8,"titleAngle":-90,"titleBaseline":"alphabetic","titleAlign":"center"}},"y2":{"datum":1}}},
{"data":{"values":[{}]},"mark":{"type":"rule","color":"black","strokeWidth":1,"strokeDash":[2,2]},"encoding":{"y":{"datum":1,"axis":null}}},
{"data":{"values":[{}]},"mark":{"type":"rule","color":"black","strokeWidth":1,"strokeDash":[2,2]},"encoding":{"x":{"datum":0,"axis":null}}},
{"data":{"values":[{}]},"mark":{"type":"rule","color":"#666666","strokeWidth":1,"strokeDash":[9,5]},"encoding":{"y":{"datum":0.32,"axis":null}}},
{"data":{"name":"b"},"transform":[{"filter":"datum.p==1"}],"mark":{"type":"line","interpolate":"step-after","color":"#0000ff","strokeWidth":2,"clip":true},"encoding":{"x":{"field":"v","type":"quantitative","axis":{"orient":"bottom","values":[-1300,-1200,-1100,-900,-800,-700,-600,-400,-300,-200,-100,100,200,300,400,600,700,800,900,1100,1200,1300],"tickSize":-2.5,"labels":false,"domain":false,"title":null}},"y":{"field":"f","type":"quantitative","axis":{"orient":"left","values":[0.1,0.2,0.3,0.4,0.6,0.7,0.8,0.9,1.1,1.2,1.3,1.4,1.6,1.7,1.8],"tickSize":-2.5,"labels":false,"domain":false,"title":null}}}},
{"data":{"name":"m"},"transform":[{"filter":"datum.p==1"}],"mark":{"type":"line","interpolate":"step-after","color":"#ff00ff","strokeWidth":2,"clip":true},"encoding":{"x":{"field":"v","type":"quantitative","axis":{"orient":"top","values":[-1000,-500,0,500,1000],"tickSize":-5,"labels":false,"domain":true,"title":null}},"y":{"field":"f","type":"quantitative","axis":{"orient":"right","values":[0,0.5,1,1.5],"tickSize":-5,"labels":false,"domain":true,"title":null}}}},
{"data":{"name":"r"},"transform":[{"filter":"datum.p==1"}],"mark":{"type":"line","color":"#ff0000","strokeWidth":2,"strokeDash":[12,6],"clip":true},"encoding":{"x":{"field":"v","type":"quantitative","axis":{"orient":"top","values":[-1300,-1200,-1100,-900,-800,-700,-600,-400,-300,-200,-100,100,200,300,400,600,700,800,900,1100,1200,1300],"tickSize":-2.5,"labels":false,"domain":false,"title":null}},"y":{"field":"f","type":"quantitative","axis":{"orient":"right","values":[0.1,0.2,0.3,0.4,0.6,0.7,0.8,0.9,1.1,1.2,1.3,1.4,1.6,1.7,1.8],"tickSize":-2.5,"labels":false,"domain":false,"title":null}}}},
{"data":{"values":[{}]},"mark":{"type":"text","align":"left","baseline":"alphabetic","font":"DejaVu Serif","fontSize":19,"color":"black"},"encoding":{"x":{"datum":-1300,"axis":null},"y":{"datum":1.62,"axis":null},"text":{"value":"SiII\u2002λ1260"}}}
]},
{"width":257.5,"height":244,"resolve":{"axis":{"x":"independent","y":"independent"}},"layer":[
{"data":{"name":"g"},"transform":[{"filter":"datum.p==2"}],"mark":{"type":"rule","color":"#cccccc","strokeWidth":3,"clip":true},"encoding":{"x":{"field":"v","type":"quantitative","scale":{"domain":[-1400,1400],"nice":false,"zero":false},"axis":{"orient":"bottom","values":[-1000,-500,0,500,1000],"tickSize":-5,"labels":false,"domain":true,"title":null}},"y":{"field":"f","type":"quantitative","scale":{"domain":[-0.0104,1.81],"nice":false,"zero":false},"axis":{"orient":"left","values":[0,0.5,1,1.5],"tickSize":-5,"labels":false,"domain":true,"title":null}},"y2":{"datum":1}}},
{"data":{"values":[{}]},"mark":{"type":"rule","color":"black","strokeWidth":1,"strokeDash":[2,2]},"encoding":{"y":{"datum":1,"axis":null}}},
{"data":{"values":[{}]},"mark":{"type":"rule","color":"black","strokeWidth":1,"strokeDash":[2,2]},"encoding":{"x":{"datum":0,"axis":null}}},
{"data":{"values":[{}]},"mark":{"type":"rule","color":"#666666","strokeWidth":1,"strokeDash":[9,5]},"encoding":{"y":{"datum":0.54,"axis":null}}},
{"data":{"name":"b"},"transform":[{"filter":"datum.p==2"}],"mark":{"type":"line","interpolate":"step-after","color":"#0000ff","strokeWidth":2,"clip":true},"encoding":{"x":{"field":"v","type":"quantitative","axis":{"orient":"bottom","values":[-1300,-1200,-1100,-900,-800,-700,-600,-400,-300,-200,-100,100,200,300,400,600,700,800,900,1100,1200,1300],"tickSize":-2.5,"labels":false,"domain":false,"title":null}},"y":{"field":"f","type":"quantitative","axis":{"orient":"left","values":[0.1,0.2,0.3,0.4,0.6,0.7,0.8,0.9,1.1,1.2,1.3,1.4,1.6,1.7,1.8],"tickSize":-2.5,"labels":false,"domain":false,"title":null}}}},
{"data":{"name":"m"},"transform":[{"filter":"datum.p==2"}],"mark":{"type":"line","interpolate":"step-after","color":"#ff00ff","strokeWidth":2,"clip":true},"encoding":{"x":{"field":"v","type":"quantitative","axis":{"orient":"top","values":[-1000,-500,0,500,1000],"tickSize":-5,"labels":false,"domain":true,"title":null}},"y":{"field":"f","type":"quantitative","axis":{"orient":"right","values":[0,0.5,1,1.5],"tickSize":-5,"labels":false,"domain":true,"title":null}}}},
{"data":{"name":"r"},"transform":[{"filter":"datum.p==2"}],"mark":{"type":"line","color":"#ff0000","strokeWidth":2,"strokeDash":[12,6],"clip":true},"encoding":{"x":{"field":"v","type":"quantitative","axis":{"orient":"top","values":[-1300,-1200,-1100,-900,-800,-700,-600,-400,-300,-200,-100,100,200,300,400,600,700,800,900,1100,1200,1300],"tickSize":-2.5,"labels":false,"domain":false,"title":null}},"y":{"field":"f","type":"quantitative","axis":{"orient":"right","values":[0.1,0.2,0.3,0.4,0.6,0.7,0.8,0.9,1.1,1.2,1.3,1.4,1.6,1.7,1.8],"tickSize":-2.5,"labels":false,"domain":false,"title":null}}}},
{"data":{"values":[{}]},"mark":{"type":"text","align":"left","baseline":"alphabetic","font":"DejaVu Serif","fontSize":19,"color":"black"},"encoding":{"x":{"datum":-1300,"axis":null},"y":{"datum":1.62,"axis":null},"text":{"value":"CII\u2002λ1335"}}}
]},
{"width":257.5,"height":244,"resolve":{"axis":{"x":"independent","y":"independent"}},"layer":[
{"data":{"name":"g"},"transform":[{"filter":"datum.p==3"}],"mark":{"type":"rule","color":"#cccccc","strokeWidth":3,"clip":true},"encoding":{"x":{"field":"v","type":"quantitative","scale":{"domain":[-1400,1400],"nice":false,"zero":false},"axis":{"orient":"bottom","values":[-1000,-500,0,500,1000],"tickSize":-5,"labels":false,"domain":true,"title":null}},"y":{"field":"f","type":"quantitative","scale":{"domain":[-0.0104,1.81],"nice":false,"zero":false},"axis":{"orient":"left","values":[0,0.5,1,1.5],"tickSize":-5,"labels":false,"domain":true,"title":null}},"y2":{"datum":1}}},
{"data":{"values":[{}]},"mark":{"type":"rule","color":"black","strokeWidth":1,"strokeDash":[2,2]},"encoding":{"y":{"datum":1,"axis":null}}},
{"data":{"values":[{}]},"mark":{"type":"rule","color":"black","strokeWidth":1,"strokeDash":[2,2]},"encoding":{"x":{"datum":0,"axis":null}}},
{"data":{"values":[{}]},"mark":{"type":"rule","color":"#666666","strokeWidth":1,"strokeDash":[9,5]},"encoding":{"y":{"datum":0.48,"axis":null}}},
{"data":{"name":"b"},"transform":[{"filter":"datum.p==3"}],"mark":{"type":"line","interpolate":"step-after","color":"#0000ff","strokeWidth":2,"clip":true},"encoding":{"x":{"field":"v","type":"quantitative","axis":{"orient":"bottom","values":[-1300,-1200,-1100,-900,-800,-700,-600,-400,-300,-200,-100,100,200,300,400,600,700,800,900,1100,1200,1300],"tickSize":-2.5,"labels":false,"domain":false,"title":null}},"y":{"field":"f","type":"quantitative","axis":{"orient":"left","values":[0.1,0.2,0.3,0.4,0.6,0.7,0.8,0.9,1.1,1.2,1.3,1.4,1.6,1.7,1.8],"tickSize":-2.5,"labels":false,"domain":false,"title":null}}}},
{"data":{"name":"m"},"transform":[{"filter":"datum.p==3"}],"mark":{"type":"line","interpolate":"step-after","color":"#ff00ff","strokeWidth":2,"clip":true},"encoding":{"x":{"field":"v","type":"quantitative","axis":{"orient":"top","values":[-1000,-500,0,500,1000],"tickSize":-5,"labels":false,"domain":true,"title":null}},"y":{"field":"f","type":"quantitative","axis":{"orient":"right","values":[0,0.5,1,1.5],"tickSize":-5,"labels":false,"domain":true,"title":null}}}},
{"data":{"name":"r"},"transform":[{"filter":"datum.p==3"}],"mark":{"type":"line","color":"#ff0000","strokeWidth":2,"strokeDash":[12,6],"clip":true},"encoding":{"x":{"field":"v","type":"quantitative","axis":{"orient":"top","values":[-1300,-1200,-1100,-900,-800,-700,-600,-400,-300,-200,-100,100,200,300,400,600,700,800,900,1100,1200,1300],"tickSize":-2.5,"labels":false,"domain":false,"title":null}},"y":{"field":"f","type":"quantitative","axis":{"orient":"right","values":[0.1,0.2,0.3,0.4,0.6,0.7,0.8,0.9,1.1,1.2,1.3,1.4,1.6,1.7,1.8],"tickSize":-2.5,"labels":false,"domain":false,"title":null}}}},
{"data":{"values":[{}]},"mark":{"type":"text","align":"left","baseline":"alphabetic","font":"DejaVu Serif","fontSize":19,"color":"black"},"encoding":{"x":{"datum":-1300,"axis":null},"y":{"datum":1.62,"axis":null},"text":{"value":"SiII\u2002λ1527"}}}
]},
{"width":257.5,"height":247.6,"resolve":{"axis":{"x":"independent","y":"independent"}},"layer":[
{"data":{"name":"g"},"transform":[{"filter":"datum.p==4"}],"mark":{"type":"rule","color":"#cccccc","strokeWidth":3,"clip":true},"encoding":{"x":{"field":"v","type":"quantitative","scale":{"domain":[-1400,1400],"nice":false,"zero":false},"axis":{"orient":"bottom","values":[-1000,-500,0,500,1000],"format":"d","tickSize":-5,"labels":true,"labelPadding":13.5,"domain":true,"title":null}},"y":{"field":"f","type":"quantitative","scale":{"domain":[-0.019,1.823],"nice":false,"zero":false},"axis":{"orient":"left","values":[0,0.5,1,1.5],"format":".1f","tickSize":-5,"labels":true,"labelPadding":8.6,"domain":true,"title":null}},"y2":{"datum":1}}},
{"data":{"values":[{}]},"mark":{"type":"rule","color":"black","strokeWidth":1,"strokeDash":[2,2]},"encoding":{"y":{"datum":1,"axis":null}}},
{"data":{"values":[{}]},"mark":{"type":"rule","color":"black","strokeWidth":1,"strokeDash":[2,2]},"encoding":{"x":{"datum":0,"axis":null}}},
{"data":{"values":[{}]},"mark":{"type":"rule","color":"#666666","strokeWidth":1,"strokeDash":[9,5]},"encoding":{"y":{"datum":0.44,"axis":null}}},
{"data":{"name":"b"},"transform":[{"filter":"datum.p==4"}],"mark":{"type":"line","interpolate":"step-after","color":"#0000ff","strokeWidth":2,"clip":true},"encoding":{"x":{"field":"v","type":"quantitative","axis":{"orient":"bottom","values":[-1300,-1200,-1100,-900,-800,-700,-600,-400,-300,-200,-100,100,200,300,400,600,700,800,900,1100,1200,1300],"tickSize":-2.5,"labels":false,"domain":false,"title":null}},"y":{"field":"f","type":"quantitative","axis":{"orient":"left","values":[0.1,0.2,0.3,0.4,0.6,0.7,0.8,0.9,1.1,1.2,1.3,1.4,1.6,1.7,1.8],"tickSize":-2.5,"labels":false,"domain":false,"title":null}}}},
{"data":{"name":"m"},"transform":[{"filter":"datum.p==4"}],"mark":{"type":"line","interpolate":"step-after","color":"#ff00ff","strokeWidth":2,"clip":true},"encoding":{"x":{"field":"v","type":"quantitative","axis":{"orient":"top","values":[-1000,-500,0,500,1000],"tickSize":-5,"labels":false,"domain":true,"title":null}},"y":{"field":"f","type":"quantitative","axis":{"orient":"right","values":[0,0.5,1,1.5],"tickSize":-5,"labels":false,"domain":true,"title":null}}}},
{"data":{"name":"r"},"transform":[{"filter":"datum.p==4"}],"mark":{"type":"line","color":"#ff0000","strokeWidth":2,"strokeDash":[12,6],"clip":true},"encoding":{"x":{"field":"v","type":"quantitative","axis":{"orient":"top","values":[-1300,-1200,-1100,-900,-800,-700,-600,-400,-300,-200,-100,100,200,300,400,600,700,800,900,1100,1200,1300],"tickSize":-2.5,"labels":false,"domain":false,"title":null}},"y":{"field":"f","type":"quantitative","axis":{"orient":"right","values":[0.1,0.2,0.3,0.4,0.6,0.7,0.8,0.9,1.1,1.2,1.3,1.4,1.6,1.7,1.8],"tickSize":-2.5,"labels":false,"domain":false,"title":null}}}},
{"data":{"values":[{}]},"mark":{"type":"text","align":"left","baseline":"alphabetic","font":"DejaVu Serif","fontSize":19,"color":"black"},"encoding":{"x":{"datum":-1300,"axis":null},"y":{"datum":1.625,"axis":null},"text":{"value":"SiIV\u2002λ1394"}}}
]},
{"width":257.5,"height":247.6,"resolve":{"axis":{"x":"independent","y":"independent"}},"layer":[
{"data":{"name":"g"},"transform":[{"filter":"datum.p==5"}],"mark":{"type":"rule","color":"#cccccc","strokeWidth":3,"clip":true},"encoding":{"x":{"field":"v","type":"quantitative","scale":{"domain":[-1400,1400],"nice":false,"zero":false},"axis":{"orient":"bottom","values":[-1000,-500,0,500,1000],"format":"d","tickSize":-5,"labels":true,"labelPadding":13.5,"domain":true,"title":"velocity [km s⁻¹]","titleX":102.8,"titleY":46.7,"titleBaseline":"alphabetic","titleAlign":"center"}},"y":{"field":"f","type":"quantitative","scale":{"domain":[-0.019,1.823],"nice":false,"zero":false},"axis":{"orient":"left","values":[0,0.5,1,1.5],"tickSize":-5,"labels":false,"domain":true,"title":null}},"y2":{"datum":1}}},
{"data":{"values":[{}]},"mark":{"type":"rule","color":"black","strokeWidth":1,"strokeDash":[2,2]},"encoding":{"y":{"datum":1,"axis":null}}},
{"data":{"values":[{}]},"mark":{"type":"rule","color":"black","strokeWidth":1,"strokeDash":[2,2]},"encoding":{"x":{"datum":0,"axis":null}}},
{"data":{"values":[{}]},"mark":{"type":"rule","color":"#666666","strokeWidth":1,"strokeDash":[9,5]},"encoding":{"y":{"datum":0.45,"axis":null}}},
{"data":{"name":"b"},"transform":[{"filter":"datum.p==5"}],"mark":{"type":"line","interpolate":"step-after","color":"#0000ff","strokeWidth":2,"clip":true},"encoding":{"x":{"field":"v","type":"quantitative","axis":{"orient":"bottom","values":[-1300,-1200,-1100,-900,-800,-700,-600,-400,-300,-200,-100,100,200,300,400,600,700,800,900,1100,1200,1300],"tickSize":-2.5,"labels":false,"domain":false,"title":null}},"y":{"field":"f","type":"quantitative","axis":{"orient":"left","values":[0.1,0.2,0.3,0.4,0.6,0.7,0.8,0.9,1.1,1.2,1.3,1.4,1.6,1.7,1.8],"tickSize":-2.5,"labels":false,"domain":false,"title":null}}}},
{"data":{"name":"m"},"transform":[{"filter":"datum.p==5"}],"mark":{"type":"line","interpolate":"step-after","color":"#ff00ff","strokeWidth":2,"clip":true},"encoding":{"x":{"field":"v","type":"quantitative","axis":{"orient":"top","values":[-1000,-500,0,500,1000],"tickSize":-5,"labels":false,"domain":true,"title":null}},"y":{"field":"f","type":"quantitative","axis":{"orient":"right","values":[0,0.5,1,1.5],"tickSize":-5,"labels":false,"domain":true,"title":null}}}},
{"data":{"name":"r"},"transform":[{"filter":"datum.p==5"}],"mark":{"type":"line","color":"#ff0000","strokeWidth":2,"strokeDash":[12,6],"clip":true},"encoding":{"x":{"field":"v","type":"quantitative","axis":{"orient":"top","values":[-1300,-1200,-1100,-900,-800,-700,-600,-400,-300,-200,-100,100,200,300,400,600,700,800,900,1100,1200,1300],"tickSize":-2.5,"labels":false,"domain":false,"title":null}},"y":{"field":"f","type":"quantitative","axis":{"orient":"right","values":[0.1,0.2,0.3,0.4,0.6,0.7,0.8,0.9,1.1,1.2,1.3,1.4,1.6,1.7,1.8],"tickSize":-2.5,"labels":false,"domain":false,"title":null}}}},
{"data":{"values":[{}]},"mark":{"type":"text","align":"left","baseline":"alphabetic","font":"DejaVu Serif","fontSize":19,"color":"black"},"encoding":{"x":{"datum":-1300,"axis":null},"y":{"datum":1.625,"axis":null},"text":{"value":"SiIV\u2002λ1403"}}}
]},
{"width":257.5,"height":247.6,"resolve":{"axis":{"x":"independent","y":"independent"}},"layer":[
{"data":{"name":"g"},"transform":[{"filter":"datum.p==6"}],"mark":{"type":"rule","color":"#cccccc","strokeWidth":3,"clip":true},"encoding":{"x":{"field":"v","type":"quantitative","scale":{"domain":[-1400,1400],"nice":false,"zero":false},"axis":{"orient":"bottom","values":[-1000,-500,0,500,1000],"format":"d","tickSize":-5,"labels":true,"labelPadding":13.5,"domain":true,"title":null}},"y":{"field":"f","type":"quantitative","scale":{"domain":[-0.019,1.823],"nice":false,"zero":false},"axis":{"orient":"left","values":[0,0.5,1,1.5],"tickSize":-5,"labels":false,"domain":true,"title":null}},"y2":{"datum":1}}},
{"data":{"values":[{}]},"mark":{"type":"rule","color":"black","strokeWidth":1,"strokeDash":[2,2]},"encoding":{"y":{"datum":1,"axis":null}}},
{"data":{"values":[{}]},"mark":{"type":"rule","color":"black","strokeWidth":1,"strokeDash":[2,2]},"encoding":{"x":{"datum":0,"axis":null}}},
{"data":{"values":[{}]},"mark":{"type":"rule","color":"#666666","strokeWidth":1,"strokeDash":[9,5]},"encoding":{"y":{"datum":0.52,"axis":null}}},
{"data":{"name":"b"},"transform":[{"filter":"datum.p==6"}],"mark":{"type":"line","interpolate":"step-after","color":"#0000ff","strokeWidth":2,"clip":true},"encoding":{"x":{"field":"v","type":"quantitative","axis":{"orient":"bottom","values":[-1300,-1200,-1100,-900,-800,-700,-600,-400,-300,-200,-100,100,200,300,400,600,700,800,900,1100,1200,1300],"tickSize":-2.5,"labels":false,"domain":false,"title":null}},"y":{"field":"f","type":"quantitative","axis":{"orient":"left","values":[0.1,0.2,0.3,0.4,0.6,0.7,0.8,0.9,1.1,1.2,1.3,1.4,1.6,1.7,1.8],"tickSize":-2.5,"labels":false,"domain":false,"title":null}}}},
{"data":{"name":"m"},"transform":[{"filter":"datum.p==6"}],"mark":{"type":"line","interpolate":"step-after","color":"#ff00ff","strokeWidth":2,"clip":true},"encoding":{"x":{"field":"v","type":"quantitative","axis":{"orient":"top","values":[-1000,-500,0,500,1000],"tickSize":-5,"labels":false,"domain":true,"title":null}},"y":{"field":"f","type":"quantitative","axis":{"orient":"right","values":[0,0.5,1,1.5],"tickSize":-5,"labels":false,"domain":true,"title":null}}}},
{"data":{"name":"r"},"transform":[{"filter":"datum.p==6"}],"mark":{"type":"line","color":"#ff0000","strokeWidth":2,"strokeDash":[12,6],"clip":true},"encoding":{"x":{"field":"v","type":"quantitative","axis":{"orient":"top","values":[-1300,-1200,-1100,-900,-800,-700,-600,-400,-300,-200,-100,100,200,300,400,600,700,800,900,1100,1200,1300],"tickSize":-2.5,"labels":false,"domain":false,"title":null}},"y":{"field":"f","type":"quantitative","axis":{"orient":"right","values":[0.1,0.2,0.3,0.4,0.6,0.7,0.8,0.9,1.1,1.2,1.3,1.4,1.6,1.7,1.8],"tickSize":-2.5,"labels":false,"domain":false,"title":null}}}},
{"data":{"values":[{}]},"mark":{"type":"text","align":"left","baseline":"alphabetic","font":"DejaVu Serif","fontSize":19,"color":"black"},"encoding":{"x":{"datum":-1300,"axis":null},"y":{"datum":1.625,"axis":null},"text":{"value":"CIV\u2002λ1548"}}}
]}
],
"columns":3,
"spacing":0,
"bounds":"flush"
}
